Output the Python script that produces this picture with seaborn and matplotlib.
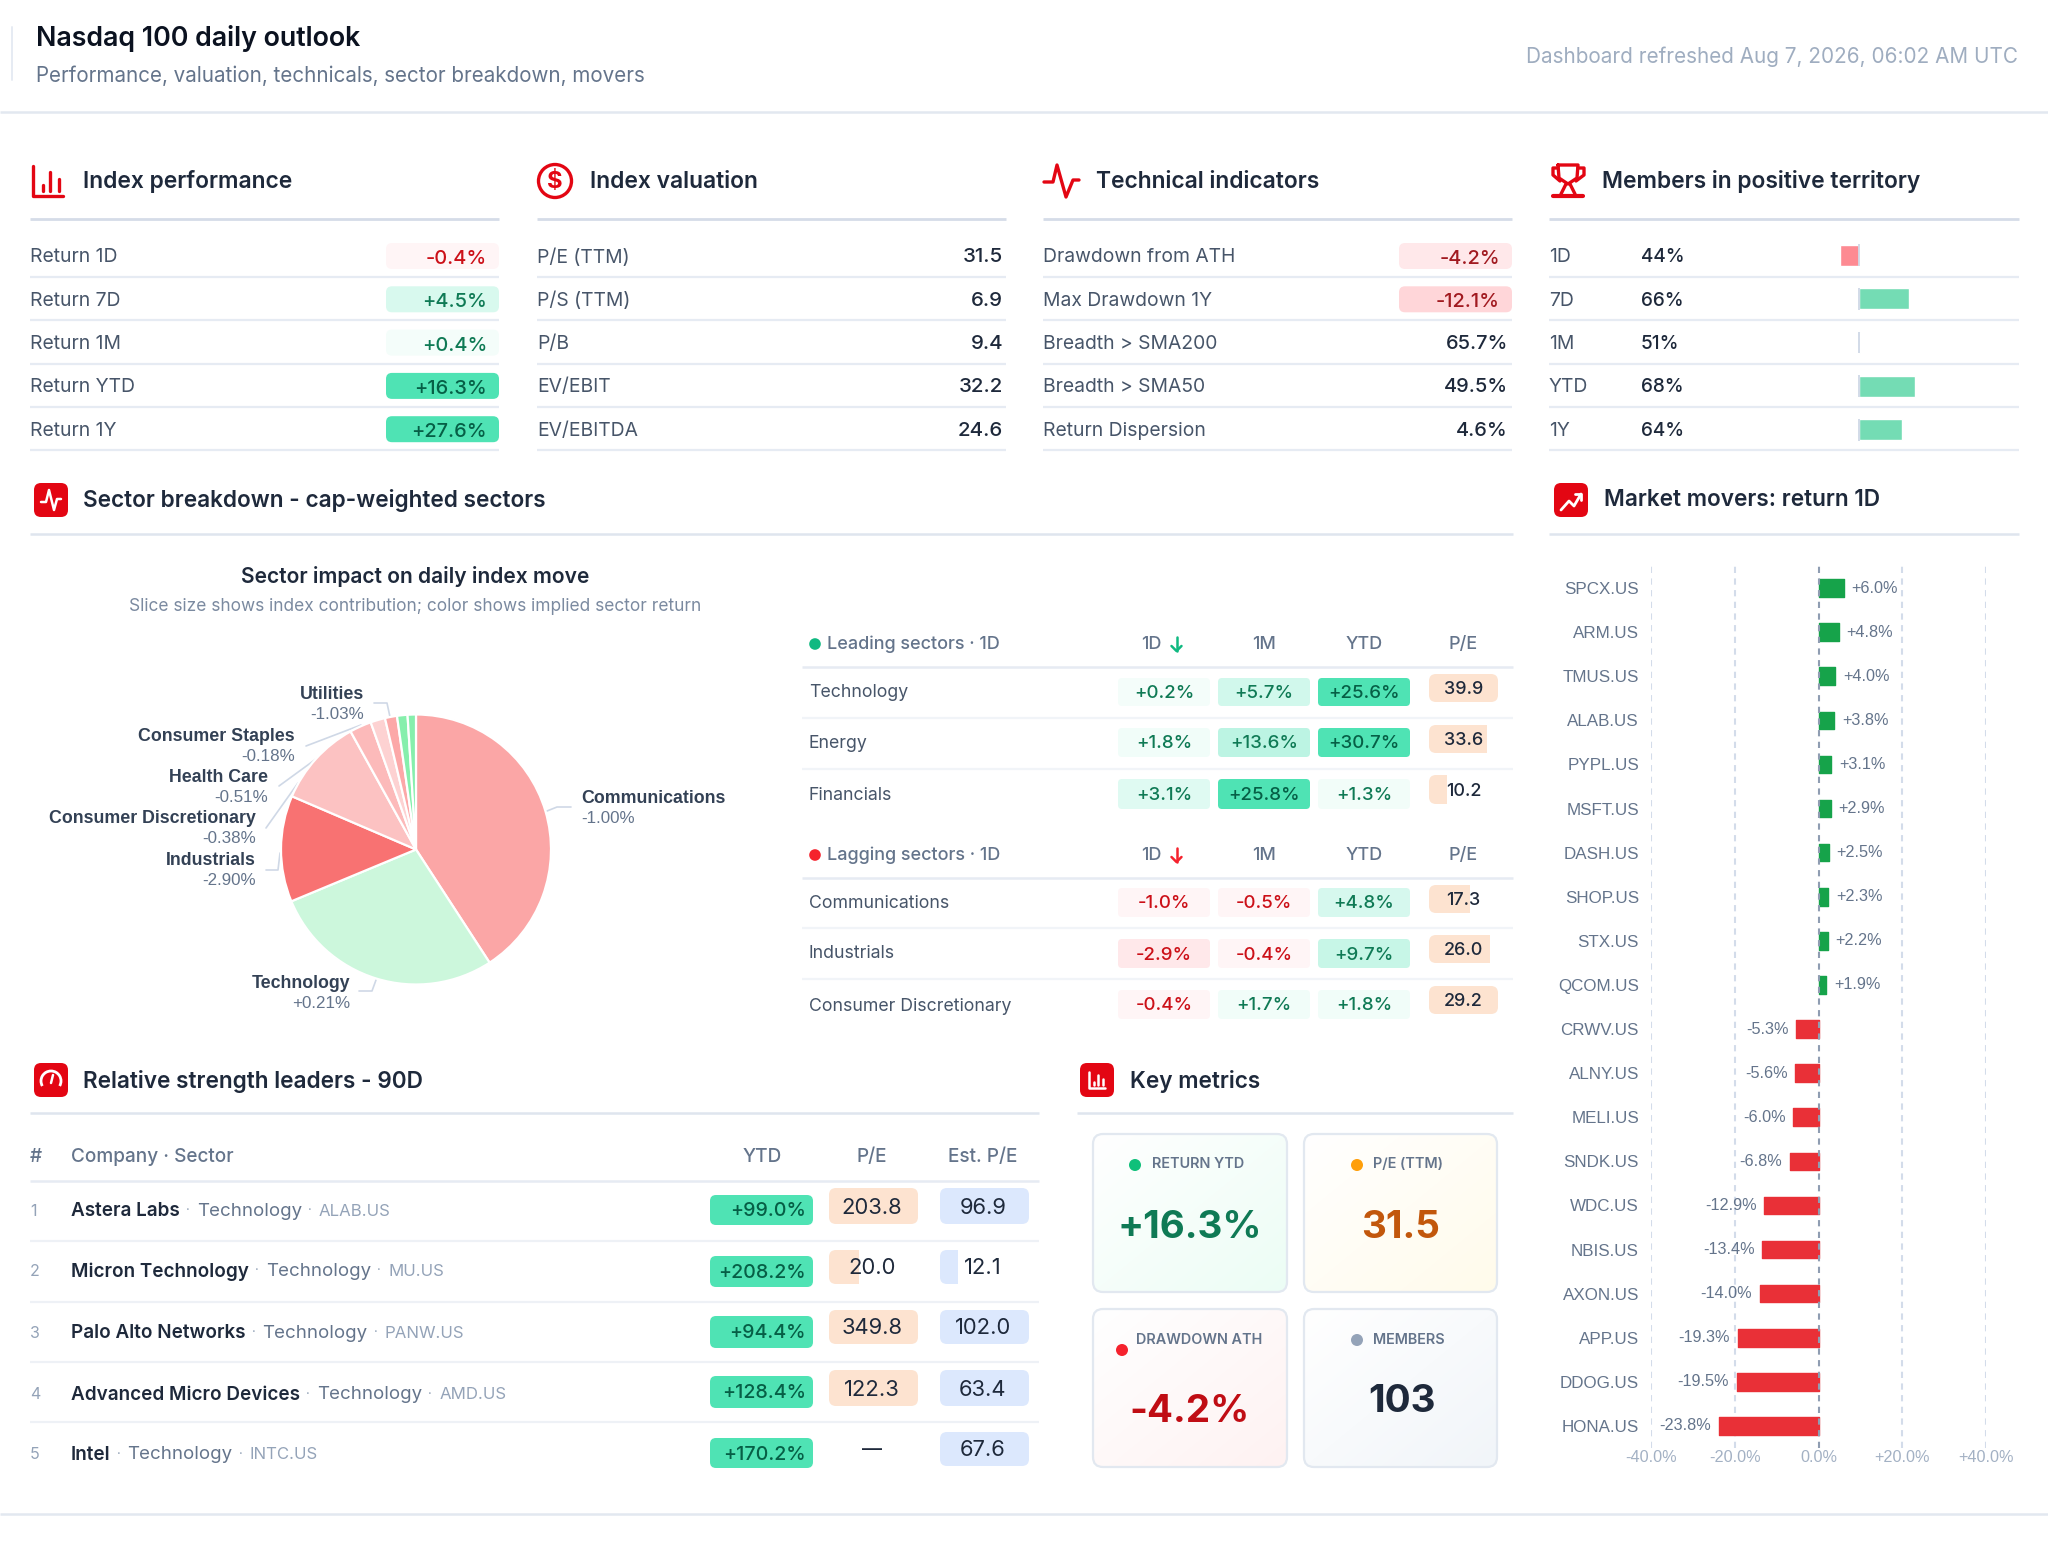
import matplotlib
matplotlib.use("Agg")
import numpy as np
import pandas as pd
import seaborn as sns
import matplotlib.pyplot as plt
from matplotlib.patches import FancyBboxPatch, Rectangle, Circle, Arc
from matplotlib.colors import to_rgb

# ---------- data ----------
perf_labels = ["Return 1D", "Return 7D", "Return 1M", "Return YTD", "Return 1Y"]
perf_values = [-0.4, 4.5, 0.4, 16.3, 27.6]
val_labels = ["P/E (TTM)", "P/S (TTM)", "P/B", "EV/EBIT", "EV/EBITDA"]
val_values = [31.5, 6.9, 9.4, 32.2, 24.6]
tech_labels = ["Drawdown from ATH", "Max Drawdown 1Y", "Breadth > SMA200", "Breadth > SMA50", "Return Dispersion"]
tech_values = [-4.2, -12.1, 65.7, 49.5, 4.6]
member_periods = ["1D", "7D", "1M", "YTD", "1Y"]
member_pct = [44, 66, 51, 68, 64]
member_bar = [44, 66, 50.3, 68, 64]

pie_sectors = ["Communications", "Technology", "Industrials", "Consumer Discretionary", "Health Care",
               "Consumer Staples", "Utilities", "Energy", "Financials"]
pie_shares = [147.0, 100.5, 45.8, 37.8, 9.4, 6.3, 5.2, 4.5, 3.6]
pie_returns = ["-1.00%", "+0.21%", "-2.90%", "-0.38%", "-0.51%", "-0.18%", "-1.03%", "", ""]
pie_colors = ["#fba6a6", "#ccf7dc", "#f87272", "#fcc2c2", "#fcbaba", "#fdd2d2", "#fca8a8", "#86efac", "#86efac"]

lead_sectors = ["Technology", "Energy", "Financials"]
lead_1d = [0.2, 1.8, 3.1]
lead_1m = [5.7, 13.6, 25.8]
lead_ytd = [25.6, 30.7, 1.3]
lead_pe = [39.9, 33.6, 10.2]
lag_sectors = ["Communications", "Industrials", "Consumer Discretionary"]
lag_1d = [-1.0, -2.9, -0.4]
lag_1m = [-0.5, -0.4, 1.7]
lag_ytd = [4.8, 9.7, 1.8]
lag_pe = [17.3, 26.0, 29.2]

mover_tickers = ["SPCX.US", "ARM.US", "TMUS.US", "ALAB.US", "PYPL.US", "MSFT.US", "DASH.US", "SHOP.US", "STX.US",
                 "QCOM.US", "CRWV.US", "ALNY.US", "MELI.US", "SNDK.US", "WDC.US", "NBIS.US", "AXON.US", "APP.US",
                 "DDOG.US", "HONA.US"]
mover_returns = [6.0, 4.8, 4.0, 3.8, 3.1, 2.9, 2.5, 2.3, 2.2, 1.9, -5.3, -5.6, -6.0, -6.8, -12.9, -13.4, -14.0,
                 -19.3, -19.5, -23.8]
mover_ticks = [-40, -20, 0, 20, 40]

rs_company = ["Astera Labs", "Micron Technology", "Palo Alto Networks", "Advanced Micro Devices", "Intel"]
rs_sector = ["Technology"] * 5
rs_ticker = ["ALAB.US", "MU.US", "PANW.US", "AMD.US", "INTC.US"]
rs_ytd = [99.0, 208.2, 94.4, 128.4, 170.2]
rs_pe = [203.8, 20.0, 349.8, 122.3, None]
rs_est = [96.9, 12.1, 102.0, 63.4, 67.6]

metric_labels = ["RETURN YTD", "P/E (TTM)", "DRAWDOWN ATH", "MEMBERS"]
metric_values = ["+16.3%", "31.5", "-4.2%", "103"]

# ---------- style ----------
sns.set_theme(style="white")
W, H = 2048, 1566
FONT = ["Inter", "DejaVu Sans"]
plt.rcParams["font.family"] = FONT
plt.rcParams["axes.unicode_minus"] = False

RED = "#e30613"
INK = "#1e293b"
SLATE = "#475569"
MUTED = "#64748b"
FAINT = "#94a3b8"
LINE = "#e6ebf3"
HEAD = "#d5dce8"

fig = plt.figure(figsize=(W / 100, H / 100), dpi=100, facecolor="white")
ax = fig.add_axes([0, 0, 1, 1])
ax.set_xlim(0, W)
ax.set_ylim(H, 0)
ax.axis("off")
renderer = fig.canvas.get_renderer()
DY = 1.5


def T(x, y, s, px, color=INK, ha="left", va="center", weight="normal", family=None, z=6):
    return ax.text(x, y + DY, s, fontsize=px * 0.72, color=color, ha=ha, va=va, weight=weight,
                   family=family or FONT, zorder=z)


def rule(x0, x1, y, color=LINE, lw=1.4):
    ax.plot([x0, x1], [y, y], color=color, lw=lw, solid_capstyle="butt", zorder=1)


def rrect(x0, y0, x1, y1, r, fc, ec="none", lw=0, z=2):
    p = FancyBboxPatch((x0 + r, y0 + r), x1 - x0 - 2 * r, y1 - y0 - 2 * r,
                       boxstyle=f"round,pad={r},rounding_size={r}", fc=fc, ec=ec, lw=lw, zorder=z)
    ax.add_patch(p)
    return p


def mix(col, f, base="#ffffff"):
    a, b = np.array(to_rgb(base)), np.array(to_rgb(col))
    return tuple(a + (b - a) * f)


def pill_style(v):
    if v >= 0:
        f = float(np.interp(v, [0, 1.8, 3.1, 5.7, 13.6, 15, 16], [.06, .08, .18, .26, .38, .38, 1]))
        return mix("#4fe3b4", f), ("#065f46" if f == 1 else "#0f7a55")
    a = abs(v)
    f = float(np.interp(a, [0, 1, 2.9, 4.2, 12.1], [.25, .25, .55, .55, 1]))
    return mix("#ffd6d9", f), ("#a11a20" if a > 3 else "#cc1018")


def pct(v):
    return f"{v:+.1f}%"


def partial_bar(x0, y0, x1, y1, frac, fc):
    clip = FancyBboxPatch((x0 + 7, y0 + 7), x1 - x0 - 14, y1 - y0 - 14, boxstyle="round,pad=7,rounding_size=7",
                          transform=ax.transData)
    rect = Rectangle((x0, y0), (x1 - x0) * frac, y1 - y0, fc=fc, ec="none", zorder=2)
    ax.add_patch(rect)
    rect.set_clip_path(clip)


def stroke(xs, ys, color=RED, lw=2.4, z=6):
    ax.plot(xs, ys, color=color, lw=lw, solid_capstyle="round", solid_joinstyle="round", zorder=z)


def icon_bars(x, y, s, color, lw=2.4):
    stroke([x, x, x + s], [y, y + s, y + s], color, lw)
    for fx, fy in [(.32, .62), (.58, .2), (.85, .42)]:
        stroke([x + fx * s] * 2, [y + fy * s, y + .82 * s], color, lw)


def icon_box(x, y, s=34):
    rrect(x, y, x + s, y + s, 7, RED, z=3)


# ---------- header ----------
ax.plot([12, 12], [27, 80], color="#e6ebf3", lw=1.4)
T(36, 37, "Nasdaq 100 daily outlook", 26.8, "#0b1220", weight="semibold")
T(36, 74, "Performance, valuation, technicals, sector breakdown, movers", 20.6, MUTED)
T(2018, 55, "Dashboard refreshed Aug 7, 2026, 06:02 AM UTC", 20.7, "#9fadc0", ha="right")
rule(0, W, 112, "#e2e8f0", 1.8)

# ---------- top panels ----------
panels = [(30, 499), (537, 1006), (1043, 1512), (1549, 2019)]
titles = ["Index performance", "Index valuation", "Technical indicators", "Members in positive territory"]
for (a, b), t in zip(panels, titles):
    T(a + 53, 180, t, 22.8, INK, weight="semibold")
    rule(a, b, 219, HEAD, 2)
    for k in range(5):
        rule(a, b, 277 + k * 43.35, LINE, 1.6)
row_y = [256 + k * 43.3 for k in range(5)]

icon_bars(33, 166, 30, RED)
ax.add_patch(Circle((555, 181), 16.5, fc="none", ec=RED, lw=2.4, zorder=6))
T(555, 180, "$", 24, RED, ha="center", weight="bold")
stroke([1044, 1053, 1057, 1066, 1073, 1079], [182, 182, 165, 197, 180, 180])
# trophy
stroke([1558, 1578, 1577, 1568, 1559, 1558], [165, 165, 178, 184, 178, 165])
stroke([1558, 1553, 1553, 1560], [168, 168, 175, 181])
stroke([1578, 1584, 1584, 1576], [168, 168, 175, 181])
stroke([1566, 1561, 1561], [184, 194, 196])
stroke([1570, 1575, 1575], [184, 194, 196])
stroke([1553, 1583], [196, 196], lw=3)

LBL = 19.3
for y, lab, v in zip(row_y, perf_labels, perf_values):
    T(30, y, lab, LBL, SLATE)
    bg, fg = pill_style(v)
    rrect(386, y - 13, 499, y + 13, 6, bg)
    T(487, y + 1.5, pct(v), 20, fg, ha="right", weight="medium")

for y, lab, v in zip(row_y, val_labels, val_values):
    T(537, y, lab, LBL, SLATE)
    T(1003, y, f"{v:.1f}", 20.5, INK, ha="right", weight="medium")

for i, (y, lab, v) in enumerate(zip(row_y, tech_labels, tech_values)):
    T(1043, y, lab, LBL, SLATE)
    if v < 0:
        bg, fg = pill_style(v)
        rrect(1399, y - 13, 1512, y + 13, 6, bg)
        T(1500, y + 1.5, pct(v), 20, fg, ha="right", weight="medium")
    else:
        T(1508, y, f"{v:.1f}%", 20, INK, ha="right", weight="medium")

for y, lab, v in zip(row_y, member_periods, member_pct):
    T(1549, y, lab, LBL, SLATE)
    T(1641, y, f"{v}%", 19, INK, weight="medium")

# bars of "members in positive territory"
mx0, mx1, my0, my1 = 1700, 2019, 234.3, 450.7
max_ = fig.add_axes([mx0 / W, 1 - my1 / H, (mx1 - mx0) / W, (my1 - my0) / H], facecolor="none")
df_m = pd.DataFrame({"p": member_periods, "v": np.array(member_bar) - 50})
df_m["s"] = np.where(df_m.v >= 0, "up", "down")
sns.barplot(data=df_m, y="p", x="v", hue="s", palette={"up": "#74dcb4", "down": "#fd8a92"}, dodge=False,
            legend=False, ax=max_, width=0.48, orient="h", saturation=1)
max_.set_xlim((mx0 - 1859) / 3.1, (mx1 - 1859) / 3.1)
max_.vlines(np.zeros(5), np.arange(5) - .25, np.arange(5) + .25, color="#cfd8e6", lw=1.3, zorder=5)
max_.axis("off")

# ---------- section headings ----------
for x, y, t in [(83, 499, "Sector breakdown - cap-weighted sectors"), (1604, 499, "Market movers: return 1D"),
                (83, 1080, "Relative strength leaders - 90D"), (1130, 1080, "Key metrics")]:
    T(x, y, t, 22.6, INK, weight="semibold")
rule(30, 1513, 534, "#dfe5ee", 1.8)
rule(1549, 2019, 534, "#dfe5ee", 1.8)
rule(30, 1039, 1113, "#dfe5ee", 1.8)
rule(1077, 1513, 1113, "#dfe5ee", 1.8)

icon_box(34, 483)
stroke([41, 46, 49, 54, 57, 61], [502, 502, 490, 510, 499, 499], "white", 1.8)
icon_box(1554, 483)
stroke([1561, 1569, 1574, 1581], [510, 501, 506, 494], "white", 2)
stroke([1575, 1581, 1581], [494, 494, 500], "white", 2)
icon_box(34, 1063)
ax.add_patch(Arc((51, 1081), 20, 20, theta1=150, theta2=30, color="white", lw=2, zorder=6))
stroke([51, 53], [1083, 1075], "white", 1.8)
icon_box(1080, 1063)
icon_bars(1089, 1072, 16, "white", 1.8)

# ---------- pie ----------
T(415, 575, "Sector impact on daily index move", 21, INK, ha="center", weight="semibold")
T(415, 605, "Slice size shows index contribution; color shows implied sector return", 17.3, "#7b8aa0", ha="center")
cx, cy, rad = 416, 849.5, 135
pax = fig.add_axes([(cx - rad) / W, 1 - (cy + rad) / H, 2 * rad / W, 2 * rad / H], facecolor="none")
pax.pie(pie_shares, colors=pie_colors, startangle=90, counterclock=False, radius=1,
        wedgeprops=dict(edgecolor="white", linewidth=1.6))
pax.set_xlim(-1, 1)
pax.set_ylim(-1, 1)
pie_pos = {"Communications": (581, 797, "left"), "Technology": (350, 982, "right"), "Industrials": (256, 859, "right"),
           "Consumer Discretionary": (256, 817, "right"), "Health Care": (268, 776, "right"),
           "Consumer Staples": (295, 735, "right"), "Utilities": (364, 693, "right")}
for name, ret in zip(pie_sectors, pie_returns):
    if name in pie_pos:
        x, y, ha = pie_pos[name]
        T(x, y, name, 17.8, "#334155", ha=ha, weight="bold", family=["Liberation Sans"])
        T(x, y + 20, ret, 17, MUTED, ha=ha, family=["Liberation Sans"])
for xs, ys in [([547, 557, 571], [811, 807, 807]), ([376, 372, 359], [980, 991, 991]),
               ([280, 278, 266], [853, 870, 870]), ([298, 266], [783, 828]), ([316, 279], [759, 786]),
               ([361, 306], [725, 746]), ([390, 387, 374], [717, 703, 703])]:
    ax.plot(xs, ys, color="#cfd8e6", lw=1.2, zorder=5)

# ---------- sector tables ----------
cols = [1118, 1218, 1318]
PE_X0, PE_X1 = 1429, 1498


def sector_table(title, dot, hy, sy, seps, names, d1, m1, ytd, pe, row_label_y, cell_y, pe_y):
    ax.add_patch(Circle((815, hy), 5.8, fc=dot, ec="none", zorder=6))
    T(827, hy - 1, title, 18, MUTED, weight="medium")
    T(1151, hy - 1, "1D", 18, MUTED, ha="center", weight="medium")
    for x, s in [(1264, "1M"), (1364, "YTD"), (1463, "P/E")]:
        T(x, hy - 1, s, 18, MUTED, ha="center", weight="medium")
    ax_x = 1176.5
    stroke([ax_x, ax_x], [hy - 7, hy + 7], dot, 1.8)
    stroke([ax_x - 5, ax_x, ax_x + 5], [hy + 2, hy + 7, hy + 2], dot, 1.8)
    rule(802, 1513, sy, "#e6ebf3", 1.8)
    for s in seps:
        rule(802, 1513, s, "#f1f4f8", 1.6)
    mx = max(pe)
    for i, n in enumerate(names):
        T(809, row_label_y[i], n, 17.7, SLATE)
        y0, y1 = cell_y[i]
        for x0, v in zip(cols, [d1[i], m1[i], ytd[i]]):
            bg, fg = pill_style(v)
            rrect(x0, y0, x0 + 92, y1, 4, bg)
            T(x0 + 46, (y0 + y1) / 2, pct(v), 18.7, fg, ha="center", weight="medium")
        p0, p1 = pe_y[i]
        partial_bar(PE_X0, p0, PE_X1, p1, pe[i] / mx, "#fde3d0")
        T(1463.5, (p0 + p1) / 2, f"{pe[i]:.1f}", 18, INK, ha="center", weight="medium")


sector_table("Leading sectors · 1D", "#10b981", 644, 667, [718, 769], lead_sectors, lead_1d, lead_1m, lead_ytd, lead_pe,
             [691, 742, 794], [(678, 706), (728, 757), (779, 809)], [(674, 702), (725, 753), (775, 804)])
sector_table("Lagging sectors · 1D", "#f5222d", 855, 878, [928, 979], lag_sectors, lag_1d, lag_1m, lag_ytd, lag_pe,
             [902, 952, 1005], [(888, 917), (939, 968), (990, 1019)], [(885, 913), (935, 963), (986, 1014)])

# ---------- movers ----------
gx0, gx1, gy0, gy1 = 1651, 1986, 566, 1448
gax = fig.add_axes([gx0 / W, 1 - gy1 / H, (gx1 - gx0) / W, (gy1 - gy0) / H], facecolor="none")
df = pd.DataFrame({"t": mover_tickers, "r": mover_returns})
df["s"] = np.where(df.r >= 0, "up", "down")
sns.barplot(data=df, y="t", x="r", hue="s", palette={"up": "#16a34a", "down": "#e93037"}, dodge=False, legend=False,
            ax=gax, width=0.40, orient="h", saturation=1, zorder=3)
for b in gax.patches:
    b.set_edgecolor(b.get_facecolor())
    b.set_linewidth(1.0)
    b.set_joinstyle("round")
gax.set_xlim(-40, 40)
gax.set_ylim(19.5, -0.5)
gax.set_xlabel("")
gax.set_ylabel("")
gax.set_xticks(mover_ticks)
gax.set_xticklabels([("0.0%" if t == 0 else f"{t:+.1f}%") for t in mover_ticks], fontsize=16.3 * .72,
                    color="#a3b1c4", family=["Liberation Sans"])
gax.tick_params(axis="x", length=0, pad=1.5)
gax.tick_params(axis="y", length=0, pad=8.7)
for lab in gax.get_yticklabels():
    lab.set_fontsize(17 * .72)
    lab.set_color(MUTED)
    lab.set_family(["Liberation Sans"])
gax.grid(False)
gax.set_axisbelow(True)
for t in mover_ticks:
    gax.axvline(t, color="#8f9db2" if t == 0 else "#d3dcea", lw=1.5, ls=(0, (3, 2.6)),
                zorder=4 if t == 0 else 1)
for s in gax.spines.values():
    s.set_visible(False)
for i, v in enumerate(mover_returns):
    gax.annotate(pct(v), (v, i), xytext=(5.5 if v >= 0 else -5.5, 0), textcoords="offset points",
                 ha="left" if v >= 0 else "right", va="center", fontsize=16.2 * .72, color=MUTED,
                 family=["Liberation Sans"], zorder=6)

# ---------- relative strength ----------
HDR = 19
T(30, 1155, "#", HDR, MUTED, weight="medium")
T(71, 1155, "Company · Sector", HDR, MUTED, weight="medium")
for x, s in [(762, "YTD"), (872, "P/E"), (983, "Est. P/E")]:
    T(x, 1155, s, HDR, MUTED, ha="center", weight="medium")
rule(30, 1039, 1181, "#e6ebf3", 1.8)
for y in [1241, 1302, 1362, 1422]:
    rule(30, 1039, y, "#eef1f6", 1.6)
rs_row = [1210, 1270, 1332, 1393, 1453]
rs_y_cell = [(1195, 1225), (1256, 1287), (1316, 1348), (1376, 1408), (1438, 1468)]
rs_v_cell = [(1188, 1224), (1250, 1284), (1310, 1344), (1370, 1406), (1432, 1466)]
for i in range(5):
    y = rs_row[i]
    T(30, y, str(i + 1), 16, FAINT)
    x = 71
    for s, px, col, wt in [(rs_company[i], 18.9, INK, "semibold"), (rs_sector[i], 18.7, MUTED, "normal"),
                           (rs_ticker[i], 16.8, FAINT, "normal")]:
        t = T(x, y, s, px, col, weight=wt)
        x += t.get_window_extent(renderer).width
        if s is not rs_ticker[i]:
            T(x + 8, y, "·", 13, FAINT, ha="center")
            x += 17
    y0, y1 = rs_y_cell[i]
    rrect(710, y0, 813, y1, 6, "#4fe3b4")
    T(806, (y0 + y1) / 2, pct(rs_ytd[i]), 19.6, "#065f46", ha="right", weight="medium")
    p0, p1 = rs_v_cell[i]
    if rs_pe[i] is None:
        T(872, (p0 + p1) / 2, "—", 20, INK, ha="center", weight="medium")
    else:
        partial_bar(829, p0, 918, p1, min(1, rs_pe[i] / 60), "#fde3d0")
        T(872, (p0 + p1) / 2, f"{rs_pe[i]:.1f}", 22, INK, ha="center")
    partial_bar(940, p0, 1029, p1, min(1, rs_est[i] / 60), "#dce8fd")
    T(983, (p0 + p1) / 2, f"{rs_est[i]:.1f}", 22, INK, ha="center")

# ---------- key metrics ----------
metric_colors = ["#0f7a55", "#c2570c", "#c00d14", INK]
dot_colors = ["#10c07a", "#ff9f0a", "#f5222d", "#94a3b8"]
tints = ["#ecfdf5", "#fffbeb", "#fef2f2", "#f1f5f9"]
card_boxes = [(1093, 1134, 1287, 1292), (1304, 1134, 1497, 1292), (1093, 1309, 1287, 1467), (1304, 1309, 1497, 1467)]
dots = [(1135, 1165), (1357, 1165), (1122, 1350), (1357, 1340)]
label_pos = [(1152, 1163), (1373, 1163), (1136, 1338), (1373, 1338)]
value_pos = [(1190, 1226), (1401, 1226), (1190, 1411), (1402, 1401)]
for i in range(4):
    x0, y0, x1, y1 = card_boxes[i]
    u, v = np.meshgrid(np.linspace(0, 1, 60), np.linspace(0, 1, 60))
    g = (u + v)[..., None] / 2
    c0, c1 = np.array(to_rgb("#ffffff")), np.array(to_rgb(tints[i]))
    img = ax.imshow(c0 + (c1 - c0) * g, extent=(x0, x1, y1, y0), aspect="auto", zorder=2, interpolation="bilinear")
    frame = rrect(x0, y0, x1, y1, 10, "none", "#e2e8f0", 1.6, z=3)
    img.set_clip_path(frame)
    ax.add_patch(Circle(dots[i], 6, fc=dot_colors[i], ec="none", zorder=6))
    T(label_pos[i][0], label_pos[i][1], metric_labels[i], 14.4, MUTED, weight="semibold")
    T(value_pos[i][0], value_pos[i][1], metric_values[i], 38.5, metric_colors[i], ha="center", weight="bold")
ax.set_xlim(0, W)
ax.set_ylim(H, 0)

# ---------- footer ----------
rule(0, W, 1514, "#e2e8f0", 1.8)

fig.savefig("out.png", dpi=100, facecolor="white")
